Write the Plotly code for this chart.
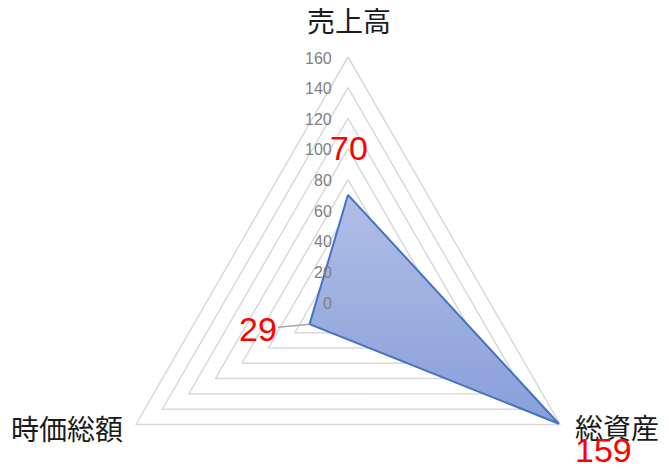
import numpy as np
import plotly.graph_objects as go

# data
categories = ["売上高", "総資産", "時価総額"]
values = [70, 159, 29]
value_labels = ["70", "159", "29"]
radial_ticks = [0, 20, 40, 60, 80, 100, 120, 140, 160]

# style / layout (page body adds an 8px margin, so the figure is 8px smaller)
GRID_COLOR = "#d9d9d9"
LINE_COLOR = "#4472c4"
PX_PER_UNIT = 245 / 160
CENTER_PX = (340, 294)
W, H = 661, 464
CAT_SHIFT = [dict(xanchor="center", xshift=1, yshift=37),
             dict(xanchor="left", xshift=13, yshift=-2),
             dict(xanchor="right", xshift=-11, yshift=-3)]
LABEL_OFFSET = [(1, -47), (45, 26), (-52, 5)]


def to_xy(r, i, n):
    """polar (clockwise from top) -> cartesian"""
    t = 2 * np.pi * i / n
    return r * np.sin(t), r * np.cos(t)


n = len(categories)
r_max = max(radial_ticks)

fig = go.Figure()

# grid triangles
gx, gy = [], []
for level in radial_ticks[1:]:
    for i in list(range(n)) + [0]:
        x, y = to_xy(level, i, n)
        gx.append(x)
        gy.append(y)
    gx.append(None)
    gy.append(None)
fig.add_trace(go.Scatter(x=gx, y=gy, mode="lines", hoverinfo="skip",
                         line=dict(color=GRID_COLOR, width=1.5), showlegend=False))

# data polygon
px_, py_ = [], []
for i in list(range(n)) + [0]:
    x, y = to_xy(values[i], i, n)
    px_.append(x)
    py_.append(y)
fig.add_trace(go.Scatter(x=px_, y=py_, mode="lines", fill="toself",
                         fillgradient=dict(type="vertical",
                                           colorscale=[[0, "#889fd9"], [1, "#b1bee6"]]),
                         line=dict(color=LINE_COLOR, width=2), showlegend=False))

annotations = []

# radial tick labels
for t in radial_ticks:
    annotations.append(dict(x=0, y=t, text=str(t), showarrow=False, xanchor="right", xshift=-14,
                            yshift=-1, font=dict(family="Liberation Sans", size=16, color="#808080")))

# category labels
for i, cat in enumerate(categories):
    x, y = to_xy(r_max, i, n)
    annotations.append(dict(x=x, y=y, text=cat, showarrow=False, yanchor="middle",
                            font=dict(family="Noto Sans CJK JP", size=28, color="#1a1a1a"),
                            **CAT_SHIFT[i]))

# value labels
for i, lab in enumerate(value_labels):
    x, y = to_xy(values[i], i, n)
    ax, ay = LABEL_OFFSET[i]
    leader = i == 2
    annotations.append(dict(x=x, y=y, text=lab, showarrow=True, ax=ax, ay=ay,
                            arrowhead=0, arrowwidth=1.5, standoff=0,
                            arrowcolor="#a6a6a6" if leader else "rgba(0,0,0,0)",
                            font=dict(family="Liberation Sans", size=34, color="#ff0000")))

cx, cy = CENTER_PX
fig.update_layout(
    width=W, height=H,
    margin=dict(l=0, r=0, t=0, b=0),
    paper_bgcolor="white",
    plot_bgcolor="white",
    annotations=annotations,
    xaxis=dict(range=[-cx / PX_PER_UNIT, (W - cx) / PX_PER_UNIT], visible=False, fixedrange=True),
    yaxis=dict(range=[-(H - cy) / PX_PER_UNIT, cy / PX_PER_UNIT], visible=False, fixedrange=True),
)

fig.write_html("out.html")
